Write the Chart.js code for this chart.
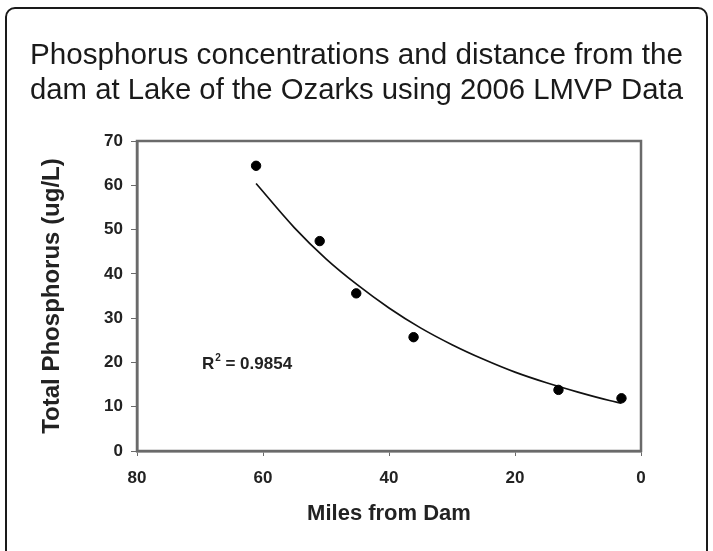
<!DOCTYPE html>
<html>
<head>
<meta charset="utf-8">
<script src="https://cdn.jsdelivr.net/npm/chart.js@4.4.1/dist/chart.umd.min.js"></script>
<style>
  html, body { margin: 0; padding: 0; background: #fff; overflow: hidden; }
  #wrap { position: relative; width: 713px; height: 551px; }
  #frame { position: absolute; left: 5px; top: 7px; width: 703px; height: 600px;
           border: 2.5px solid #1a1a1a; border-radius: 10px; box-sizing: border-box; }
  canvas { position: absolute; left: 0; top: 0; }
</style>
</head>
<body>
<div id="wrap">
  <div id="frame"></div>
  <canvas id="c" width="713" height="551"></canvas>
</div>
<script>
// ---- Data ----
const titleLines = ["Phosphorus concentrations and distance from the",
                    "dam at Lake of the Ozarks using 2006 LMVP Data"];
const xAxisTitle = "Miles from Dam";
const yAxisTitle = "Total Phosphorus (ug/L)";
const xTickValues = [80, 60, 40, 20, 0];
const yTickValues = [0, 10, 20, 30, 40, 50, 60, 70];

// observed points
const milesFromDam = [61.1, 51.0, 45.2, 36.1, 13.1, 3.1];
const totalPhosphorus = [64.4, 47.4, 35.6, 25.7, 13.8, 11.9];

// trend line (exponential fit)
const trendMiles  = [61.1, 55, 50, 45, 40, 35, 30, 25, 20, 15, 10, 5, 3.1];
const trendValues = [60.4, 50.4, 43.4, 37.5, 32.3, 27.8, 24.0, 20.7, 17.8, 15.4, 13.3, 11.4, 10.8];

// R-squared label and its anchor (data coordinates)
const r2Prefix = "R";
const r2Super = "2";
const r2Rest = " = 0.9854";
const r2AnchorX = 69.7;
const r2AnchorY = 19.8;

const FONT = "'Liberation Sans', Arial, Helvetica, sans-serif";

const framePlugin = {
  id: 'plotFrame',
  afterDraw(chart) {
    const {ctx, chartArea: a} = chart;
    ctx.save();
    ctx.strokeStyle = '#6a6a6a';
    ctx.lineWidth = 2.5;
    ctx.strokeRect(a.left, a.top, a.right - a.left, a.bottom - a.top);
    ctx.restore();
  }
};

const r2Plugin = {
  id: 'r2Label',
  afterDatasetsDraw(chart) {
    const {ctx, scales} = chart;
    let px = scales.x.getPixelForValue(r2AnchorX);
    const py = scales.y.getPixelForValue(r2AnchorY);
    ctx.save();
    ctx.fillStyle = '#222';
    ctx.textAlign = 'left';
    ctx.textBaseline = 'alphabetic';
    const base = py + 6;
    ctx.font = "bold 17px " + FONT;
    ctx.fillText(r2Prefix, px, base);
    px += ctx.measureText(r2Prefix).width + 1;
    ctx.font = "bold 10px " + FONT;
    ctx.fillText(r2Super, px, base - 8);
    px += ctx.measureText(r2Super).width;
    ctx.font = "bold 17px " + FONT;
    ctx.fillText(r2Rest, px, base);
    ctx.restore();
  }
};

const pts = milesFromDam.map((x, i) => ({x: x, y: totalPhosphorus[i]}));
const trend = trendMiles.map((x, i) => ({x: x, y: trendValues[i]}));

new Chart(document.getElementById('c'), {
  type: 'scatter',
  data: {
    datasets: [
      {
        label: 'Trend',
        data: trend,
        showLine: true,
        borderColor: '#111',
        borderWidth: 1.7,
        pointRadius: 0,
        fill: false,
        cubicInterpolationMode: 'monotone',
        order: 2
      },
      {
        label: 'Observed',
        data: pts,
        backgroundColor: '#000',
        borderColor: '#000',
        pointRadius: 4.7,
        pointHoverRadius: 4.7,
        order: 1
      }
    ]
  },
  options: {
    responsive: false,
    animation: false,
    events: [],
    layout: { padding: { left: 30, right: 30, top: 0, bottom: 0 } },
    plugins: {
      legend: { display: false },
      tooltip: { enabled: false },
      title: {
        display: true,
        text: titleLines,
        color: '#1a1a1a',
        font: { family: FONT, size: 30, weight: 'normal', lineHeight: 1.17 },
        padding: { top: 38.5, bottom: 32.3 }
      }
    },
    scales: {
      x: {
        type: 'linear',
        min: 0, max: 80,
        reverse: true,
        afterBuildTicks(s) { s.ticks = xTickValues.map(v => ({value: v})); },
        afterFit(s) { s.height = 100; },
        grid: { drawOnChartArea: false, drawTicks: true, tickLength: 5, color: '#6a6a6a', lineWidth: 1 },
        border: { display: true, color: '#6a6a6a', width: 2.5 },
        ticks: { color: '#222', padding: 12, font: { family: FONT, size: 17, weight: 'bold' } },
        title: {
          display: true, text: xAxisTitle, color: '#222',
          font: { family: FONT, size: 22, weight: 'bold', lineHeight: 1.2 },
          padding: { top: 0, bottom: 24 }
        }
      },
      y: {
        type: 'linear',
        position: 'left',
        min: 0, max: 70,
        afterBuildTicks(s) { s.ticks = yTickValues.map(v => ({value: v})); },
        afterFit(s) { s.width = 107; },
        grid: { drawOnChartArea: false, drawTicks: true, tickLength: 6, color: '#6a6a6a', lineWidth: 1 },
        border: { display: true, color: '#6a6a6a', width: 2.5 },
        ticks: { color: '#222', padding: 8, font: { family: FONT, size: 17, weight: 'bold' } },
        title: {
          display: true, text: yAxisTitle, color: '#222',
          font: { family: FONT, size: 24, weight: 'bold', lineHeight: 1.2 },
          padding: { top: 8, bottom: 0 }
        }
      },
      yRightSpacer: {
        type: 'linear',
        position: 'right',
        min: 0, max: 70,
        afterFit(s) { s.width = 42; },
        grid: { display: false, drawTicks: false },
        border: { display: false },
        ticks: { display: false }
      }
    }
  },
  plugins: [framePlugin, r2Plugin]
});
</script>
</body>
</html>
